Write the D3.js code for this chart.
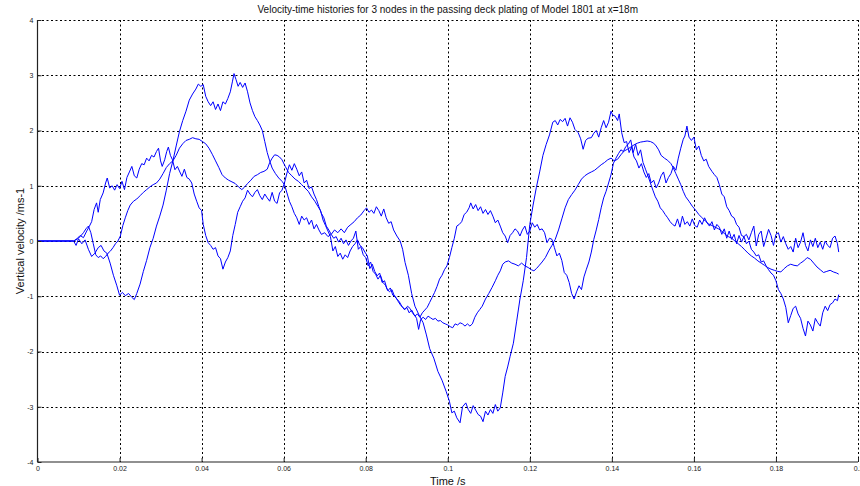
<!DOCTYPE html>
<html>
<head>
<meta charset="utf-8">
<script src="https://cdn.jsdelivr.net/npm/d3@7"></script>
<style>
  html, body { margin: 0; padding: 0; background: #fff; }
  svg { display: block; }
  text { font-family: "Liberation Sans", Arial, sans-serif; }
</style>
</head>
<body>
<svg id="chart" width="860" height="486"></svg>
<script>
// Vertical velocity histories [time s, velocity m/s] for three deck plating nodes
const nodeA = [
  [0,0],[0.0088,0],[0.0094,-0.08],[0.0100,0.04],[0.0108,-0.05],[0.0116,0.02],[0.0124,-0.15],[0.0132,-0.28],
  [0.0140,-0.22],[0.0148,-0.12],[0.0155,-0.08],[0.0162,-0.18],[0.0169,-0.22],[0.0177,-0.40],[0.0185,-0.62],
  [0.0193,-0.80],[0.0200,-0.98],[0.0207,-0.93],[0.0214,-0.99],[0.0222,-0.95],[0.0230,-1.02],[0.0236,-1.06],
  [0.0242,-0.95],[0.0250,-0.78],[0.0258,-0.55],[0.0266,-0.35],[0.0274,-0.12],[0.0282,0.05],[0.0290,0.27],
  [0.0298,0.45],[0.0306,0.65],[0.0314,0.92],[0.0322,1.22],[0.0330,1.45],[0.0338,1.72],[0.0346,1.98],
  [0.0354,2.18],[0.0362,2.35],[0.0370,2.55],[0.0378,2.66],[0.0386,2.75],[0.0392,2.84],[0.0398,2.80],
  [0.0404,2.83],[0.0410,2.62],[0.0416,2.52],[0.0422,2.45],[0.0428,2.52],[0.0434,2.38],[0.0440,2.48],
  [0.0446,2.36],[0.0452,2.52],[0.0458,2.48],[0.0464,2.58],[0.0470,2.70],[0.0475,2.88],[0.0479,3.03],
  [0.0484,2.92],[0.0489,2.80],[0.0494,2.87],[0.0500,2.78],[0.0506,2.86],[0.0512,2.70],[0.0518,2.50],
  [0.0524,2.36],[0.0530,2.25],[0.0536,2.18],[0.0542,2.10],[0.0548,2.00],[0.0554,1.80],[0.0560,1.60],
  [0.0566,1.45],[0.0572,1.32],[0.0580,1.22],[0.0588,1.14],[0.0596,1.08],[0.0602,1.02],[0.0608,0.87],
  [0.0614,0.72],[0.0620,0.62],[0.0626,0.50],[0.0632,0.42],[0.0638,0.30],[0.0644,0.45],[0.0650,0.38],
  [0.0656,0.42],[0.0662,0.30],[0.0668,0.38],[0.0674,0.22],[0.0680,0.30],[0.0686,0.20],[0.0692,0.12],
  [0.0700,0.15],[0.0708,0.08],[0.0716,0.12],[0.0724,0.20],[0.0732,0.15],[0.0740,0.22],[0.0748,0.15],
  [0.0756,0.25],[0.0764,0.30],[0.0772,0.35],[0.0780,0.42],[0.0788,0.47],[0.0796,0.55],[0.0802,0.60],
  [0.0808,0.52],[0.0814,0.56],[0.0820,0.50],[0.0826,0.62],[0.0832,0.55],[0.0838,0.45],[0.0844,0.58],
  [0.0850,0.42],[0.0856,0.32],[0.0862,0.35],[0.0868,0.20],[0.0876,0.09],[0.0884,0.00],[0.0890,-0.15],
  [0.0896,-0.39],[0.0904,-0.62],[0.0912,-0.95],[0.0920,-1.18],[0.0930,-1.34],[0.0940,-1.48],[0.0948,-1.70],
  [0.0956,-1.95],[0.0966,-2.12],[0.0976,-2.36],[0.0986,-2.52],[0.0996,-2.72],[0.1004,-2.90],[0.1010,-3.11],
  [0.1016,-3.08],[0.1022,-3.20],[0.1030,-3.29],[0.1036,-3.00],[0.1044,-2.93],[0.1050,-3.05],[0.1056,-3.12],
  [0.1062,-2.98],[0.1068,-3.06],[0.1074,-3.14],[0.1080,-3.17],[0.1086,-3.27],[0.1092,-3.08],[0.1098,-3.15],
  [0.1104,-3.05],[0.1110,-3.12],[0.1116,-2.96],[0.1122,-3.08],[0.1128,-3.02],[0.1134,-2.75],[0.1140,-2.45],
  [0.1146,-2.28],[0.1152,-2.09],[0.1160,-1.85],[0.1168,-1.45],[0.1176,-1.05],[0.1184,-0.72],[0.1192,-0.30],
  [0.1200,0.30],[0.1208,0.65],[0.1216,0.97],[0.1224,1.25],[0.1232,1.55],[0.1240,1.75],[0.1248,1.92],
  [0.1256,2.15],[0.1262,2.18],[0.1268,2.10],[0.1274,2.20],[0.1280,2.16],[0.1286,2.22],[0.1292,2.08],
  [0.1298,2.23],[0.1304,2.15],[0.1310,2.02],[0.1318,1.96],[0.1324,1.85],[0.1330,1.66],[0.1336,1.82],
  [0.1342,1.86],[0.1350,1.87],[0.1356,1.95],[0.1362,2.00],[0.1368,1.88],[0.1374,2.05],[0.1380,2.18],
  [0.1386,2.05],[0.1392,2.15],[0.1398,2.35],[0.1402,2.28],[0.1408,2.26],[0.1414,2.18],[0.1418,2.30],
  [0.1424,1.96],[0.1430,1.78],[0.1436,1.80],[0.1442,1.60],[0.1448,1.70],[0.1454,1.52],[0.1460,1.45],
  [0.1466,1.32],[0.1472,1.40],[0.1478,1.25],[0.1484,1.15],[0.1490,1.22],[0.1496,1.05],[0.1502,1.10],
  [0.1508,0.96],[0.1514,1.05],[0.1520,1.18],[0.1526,1.25],[0.1532,1.05],[0.1538,1.15],[0.1544,1.22],
  [0.1550,1.35],[0.1556,1.28],[0.1562,1.50],[0.1568,1.68],[0.1574,1.84],[0.1578,1.90],[0.1583,2.08],
  [0.1588,1.88],[0.1594,1.82],[0.1600,1.88],[0.1606,1.65],[0.1612,1.72],[0.1618,1.55],[0.1624,1.45],
  [0.1630,1.48],[0.1636,1.35],[0.1644,1.26],[0.1650,1.20],[0.1656,1.15],[0.1662,1.02],[0.1668,0.85],
  [0.1674,0.80],[0.1680,0.62],[0.1686,0.55],[0.1692,0.45],[0.1698,0.42],[0.1704,0.30],[0.1710,0.25],
  [0.1716,0.10],[0.1722,0.08],[0.1728,-0.05],[0.1734,0.00],[0.1740,-0.15],[0.1746,-0.20],[0.1752,-0.27],
  [0.1758,-0.25],[0.1764,-0.38],[0.1770,-0.36],[0.1776,-0.45],[0.1782,-0.52],[0.1788,-0.58],[0.1794,-0.62],
  [0.1800,-0.72],[0.1806,-0.88],[0.1812,-0.95],[0.1818,-1.05],[0.1824,-1.20],[0.1830,-1.48],[0.1836,-1.35],
  [0.1842,-1.22],[0.1848,-1.18],[0.1854,-1.32],[0.1860,-1.40],[0.1866,-1.58],[0.1872,-1.72],[0.1878,-1.45],
  [0.1884,-1.52],[0.1890,-1.63],[0.1896,-1.40],[0.1902,-1.48],[0.1908,-1.54],[0.1914,-1.30],[0.1920,-1.18],
  [0.1926,-1.26],[0.1932,-1.15],[0.1938,-1.12],[0.1944,-1.05],[0.1950,-1.08],[0.1953,-0.97]
];

const nodeB = [
  [0,0],[0.0088,0],[0.0096,0.04],[0.0104,0.10],[0.0112,0.06],[0.0120,0.18],[0.0126,0.26],[0.0132,0.35],
  [0.0138,0.57],[0.0144,0.69],[0.0148,0.52],[0.0153,0.75],[0.0160,0.87],[0.0166,1.05],[0.0170,1.14],
  [0.0176,0.96],[0.0182,1.00],[0.0188,0.92],[0.0194,1.02],[0.0200,0.95],[0.0206,1.08],[0.0212,0.93],
  [0.0218,1.15],[0.0224,1.25],[0.0230,1.35],[0.0236,1.18],[0.0242,1.14],[0.0248,1.30],[0.0254,1.40],
  [0.0260,1.38],[0.0266,1.50],[0.0272,1.45],[0.0278,1.55],[0.0284,1.52],[0.0290,1.62],[0.0295,1.68],
  [0.0300,1.45],[0.0304,1.35],[0.0310,1.47],[0.0315,1.62],[0.0319,1.70],[0.0324,1.55],[0.0329,1.47],
  [0.0335,1.29],[0.0341,1.35],[0.0347,1.25],[0.0352,1.17],[0.0358,1.30],[0.0364,1.15],[0.0370,1.12],
  [0.0376,1.05],[0.0382,0.85],[0.0388,0.72],[0.0394,0.60],[0.0400,0.55],[0.0404,0.30],[0.0410,0.10],
  [0.0416,-0.03],[0.0422,-0.08],[0.0428,-0.15],[0.0434,-0.12],[0.0440,-0.27],[0.0446,-0.32],[0.0452,-0.51],
  [0.0458,-0.38],[0.0464,-0.30],[0.0470,-0.18],[0.0476,0.10],[0.0482,0.30],[0.0488,0.52],[0.0494,0.62],
  [0.0500,0.72],[0.0506,0.78],[0.0512,0.92],[0.0518,0.85],[0.0524,0.80],[0.0530,0.88],[0.0536,0.93],
  [0.0542,0.82],[0.0548,0.75],[0.0554,0.85],[0.0560,0.78],[0.0566,0.72],[0.0572,0.88],[0.0578,0.72],
  [0.0584,0.68],[0.0590,0.87],[0.0596,0.92],[0.0602,1.05],[0.0608,1.23],[0.0614,1.38],[0.0620,1.28],
  [0.0626,1.40],[0.0632,1.30],[0.0638,1.18],[0.0644,1.25],[0.0650,1.05],[0.0656,1.10],[0.0662,0.95],
  [0.0668,0.98],[0.0674,0.85],[0.0680,0.75],[0.0686,0.62],[0.0692,0.50],[0.0698,0.42],[0.0704,0.27],
  [0.0710,0.20],[0.0716,0.12],[0.0722,0.05],[0.0728,0.08],[0.0734,-0.02],[0.0740,0.05],[0.0746,-0.05],
  [0.0752,0.02],[0.0758,-0.08],[0.0764,0.00],[0.0770,0.05],[0.0776,0.18],[0.0782,-0.15],[0.0788,-0.10],
  [0.0794,-0.25],[0.0800,-0.30],[0.0806,-0.45],[0.0812,-0.38],[0.0818,-0.55],[0.0824,-0.60],[0.0830,-0.69],
  [0.0836,-0.62],[0.0842,-0.75],[0.0848,-0.80],[0.0854,-0.90],[0.0860,-0.85],[0.0866,-0.98],[0.0872,-1.00],
  [0.0878,-1.08],[0.0884,-1.15],[0.0890,-1.20],[0.0896,-1.24],[0.0902,-1.18],[0.0908,-1.22],[0.0914,-1.30],
  [0.0920,-1.36],[0.0926,-1.32],[0.0932,-1.38],[0.0938,-1.30],[0.0944,-1.25],[0.0950,-1.20],[0.0956,-1.11],
  [0.0962,-1.02],[0.0968,-0.93],[0.0974,-0.82],[0.0980,-0.69],[0.0986,-0.62],[0.0992,-0.52],[0.0998,-0.45],
  [0.1004,-0.30],[0.1010,-0.12],[0.1016,0.05],[0.1022,0.27],[0.1028,0.30],[0.1034,0.35],[0.1040,0.48],
  [0.1046,0.52],[0.1052,0.60],[0.1056,0.69],[0.1062,0.58],[0.1068,0.66],[0.1074,0.55],[0.1080,0.62],
  [0.1086,0.50],[0.1092,0.57],[0.1098,0.48],[0.1104,0.55],[0.1110,0.45],[0.1116,0.33],[0.1122,0.38],
  [0.1128,0.27],[0.1134,0.15],[0.1140,0.09],[0.1146,-0.03],[0.1152,0.10],[0.1158,0.15],[0.1164,0.22],
  [0.1170,0.18],[0.1176,0.09],[0.1182,0.20],[0.1188,0.27],[0.1194,0.12],[0.1200,0.18],[0.1206,0.33],
  [0.1212,0.25],[0.1218,0.30],[0.1224,0.20],[0.1230,0.22],[0.1236,0.15],[0.1242,-0.03],[0.1248,0.05],
  [0.1254,0.03],[0.1260,-0.12],[0.1266,-0.27],[0.1272,-0.22],[0.1278,-0.35],[0.1284,-0.57],[0.1290,-0.62],
  [0.1296,-0.75],[0.1302,-0.95],[0.1308,-1.05],[0.1314,-0.92],[0.1320,-0.81],[0.1326,-0.88],[0.1332,-0.65],
  [0.1338,-0.51],[0.1344,-0.38],[0.1350,-0.20],[0.1356,0.03],[0.1362,0.20],[0.1368,0.39],[0.1374,0.60],
  [0.1380,0.78],[0.1386,0.90],[0.1392,1.05],[0.1398,1.20],[0.1404,1.41],[0.1410,1.50],[0.1416,1.58],
  [0.1422,1.65],[0.1428,1.62],[0.1434,1.71],[0.1440,1.75],[0.1446,1.83],[0.1452,1.60],[0.1458,1.75],
  [0.1464,1.55],[0.1470,1.65],[0.1476,1.42],[0.1482,1.30],[0.1488,1.18],[0.1494,1.05],[0.1500,0.92],
  [0.1506,0.80],[0.1512,0.72],[0.1518,0.60],[0.1524,0.55],[0.1530,0.48],[0.1536,0.42],[0.1542,0.35],
  [0.1548,0.30],[0.1554,0.27],[0.1560,0.40],[0.1566,0.25],[0.1572,0.45],[0.1578,0.30],[0.1584,0.35],
  [0.1590,0.27],[0.1596,0.40],[0.1602,0.28],[0.1608,0.25],[0.1614,0.38],[0.1620,0.30],[0.1626,0.42],
  [0.1632,0.33],[0.1638,0.27],[0.1644,0.35],[0.1650,0.20],[0.1656,0.30],[0.1662,0.25],[0.1668,0.12],
  [0.1674,0.22],[0.1680,0.05],[0.1686,0.18],[0.1692,0.03],[0.1698,0.12],[0.1704,-0.05],[0.1710,0.10],
  [0.1716,-0.02],[0.1722,0.08],[0.1728,0.12],[0.1734,0.02],[0.1740,0.15],[0.1746,0.27],[0.1752,-0.09],
  [0.1758,0.12],[0.1764,0.18],[0.1770,-0.10],[0.1776,0.05],[0.1782,0.21],[0.1788,0.10],[0.1794,-0.08],
  [0.1800,0.12],[0.1806,0.15],[0.1812,-0.02],[0.1818,0.08],[0.1824,-0.05],[0.1830,-0.15],[0.1836,-0.10],
  [0.1842,-0.20],[0.1848,0.05],[0.1854,-0.12],[0.1860,-0.02],[0.1866,0.15],[0.1872,-0.08],[0.1878,-0.18],
  [0.1884,0.02],[0.1890,-0.10],[0.1896,0.05],[0.1902,-0.12],[0.1908,-0.02],[0.1914,-0.15],[0.1920,0.00],
  [0.1926,-0.08],[0.1932,-0.12],[0.1938,0.05],[0.1944,0.09],[0.1950,-0.05],[0.1953,-0.20]
];

const nodeC = [
  [0,0],[0.0088,0],[0.0096,0.03],[0.0104,0.08],[0.0112,0.15],[0.0118,0.22],[0.0124,0.27],[0.0130,0.15],
  [0.0136,-0.05],[0.0142,-0.25],[0.0148,-0.30],[0.0154,-0.27],[0.0160,-0.32],[0.0166,-0.28],[0.0172,-0.22],
  [0.0178,-0.18],[0.0184,-0.12],[0.0190,-0.05],[0.0196,0.00],[0.0202,0.09],[0.0208,0.28],[0.0214,0.42],
  [0.0220,0.55],[0.0226,0.65],[0.0234,0.72],[0.0242,0.76],[0.0250,0.82],[0.0258,0.88],[0.0266,0.93],
  [0.0274,0.98],[0.0282,1.02],[0.0290,1.05],[0.0298,1.12],[0.0306,1.22],[0.0314,1.33],[0.0322,1.40],
  [0.0330,1.45],[0.0338,1.55],[0.0346,1.68],[0.0354,1.76],[0.0362,1.82],[0.0370,1.84],[0.0378,1.87],
  [0.0386,1.85],[0.0394,1.84],[0.0402,1.80],[0.0410,1.76],[0.0418,1.68],[0.0426,1.57],[0.0434,1.45],
  [0.0442,1.33],[0.0450,1.20],[0.0458,1.14],[0.0466,1.10],[0.0474,1.07],[0.0482,1.04],[0.0490,0.98],
  [0.0498,0.93],[0.0504,0.97],[0.0512,1.04],[0.0520,1.10],[0.0528,1.17],[0.0536,1.20],[0.0544,1.24],
  [0.0552,1.26],[0.0560,1.30],[0.0566,1.42],[0.0572,1.50],[0.0578,1.56],[0.0584,1.55],[0.0590,1.52],
  [0.0596,1.47],[0.0604,1.35],[0.0612,1.24],[0.0620,1.18],[0.0628,1.12],[0.0636,1.08],[0.0644,1.02],
  [0.0652,0.96],[0.0660,0.90],[0.0668,0.80],[0.0676,0.72],[0.0684,0.62],[0.0690,0.55],[0.0696,0.38],
  [0.0702,0.28],[0.0708,0.18],[0.0714,0.08],[0.0720,-0.18],[0.0726,-0.10],[0.0732,-0.28],[0.0738,-0.22],
  [0.0744,-0.33],[0.0750,-0.25],[0.0756,-0.30],[0.0762,-0.18],[0.0768,-0.10],[0.0774,-0.05],[0.0780,0.02],
  [0.0786,-0.08],[0.0792,-0.12],[0.0798,-0.20],[0.0804,-0.27],[0.0810,-0.50],[0.0816,-0.42],[0.0822,-0.55],
  [0.0828,-0.63],[0.0834,-0.58],[0.0840,-0.75],[0.0846,-0.72],[0.0852,-0.87],[0.0858,-0.92],[0.0864,-0.88],
  [0.0870,-1.00],[0.0876,-1.05],[0.0882,-1.10],[0.0888,-1.18],[0.0894,-1.24],[0.0900,-1.20],[0.0906,-1.30],
  [0.0912,-1.25],[0.0918,-1.33],[0.0924,-1.40],[0.0929,-1.60],[0.0934,-1.42],[0.0940,-1.38],[0.0946,-1.42],
  [0.0952,-1.36],[0.0958,-1.39],[0.0964,-1.42],[0.0970,-1.40],[0.0976,-1.45],[0.0982,-1.44],[0.0988,-1.48],
  [0.0994,-1.50],[0.1000,-1.52],[0.1006,-1.55],[0.1012,-1.57],[0.1018,-1.50],[0.1024,-1.52],[0.1030,-1.48],
  [0.1036,-1.50],[0.1042,-1.54],[0.1048,-1.50],[0.1054,-1.54],[0.1060,-1.50],[0.1066,-1.38],[0.1072,-1.30],
  [0.1078,-1.24],[0.1084,-1.18],[0.1092,-1.05],[0.1100,-0.95],[0.1108,-0.84],[0.1116,-0.72],[0.1122,-0.62],
  [0.1128,-0.54],[0.1134,-0.42],[0.1140,-0.38],[0.1148,-0.36],[0.1156,-0.40],[0.1164,-0.42],[0.1172,-0.45],
  [0.1180,-0.40],[0.1188,-0.45],[0.1196,-0.48],[0.1204,-0.52],[0.1210,-0.54],[0.1216,-0.50],[0.1222,-0.45],
  [0.1230,-0.38],[0.1238,-0.30],[0.1246,-0.18],[0.1254,-0.08],[0.1262,0.03],[0.1270,0.20],[0.1278,0.40],
  [0.1286,0.60],[0.1294,0.75],[0.1302,0.84],[0.1310,0.92],[0.1318,1.02],[0.1326,1.12],[0.1334,1.18],
  [0.1342,1.22],[0.1350,1.25],[0.1358,1.28],[0.1366,1.33],[0.1374,1.38],[0.1382,1.42],[0.1390,1.47],
  [0.1398,1.50],[0.1406,1.45],[0.1414,1.48],[0.1422,1.56],[0.1430,1.63],[0.1438,1.66],[0.1446,1.70],
  [0.1454,1.74],[0.1462,1.77],[0.1470,1.79],[0.1478,1.80],[0.1486,1.81],[0.1494,1.80],[0.1502,1.77],
  [0.1508,1.72],[0.1514,1.65],[0.1520,1.55],[0.1528,1.50],[0.1536,1.46],[0.1544,1.40],[0.1550,1.32],
  [0.1556,1.22],[0.1562,1.12],[0.1568,1.02],[0.1574,0.90],[0.1580,0.80],[0.1588,0.72],[0.1596,0.63],
  [0.1604,0.56],[0.1612,0.48],[0.1620,0.42],[0.1628,0.36],[0.1636,0.31],[0.1644,0.28],[0.1652,0.25],
  [0.1660,0.22],[0.1668,0.18],[0.1676,0.12],[0.1684,0.08],[0.1692,0.05],[0.1700,0.00],[0.1708,-0.05],
  [0.1716,-0.10],[0.1724,-0.16],[0.1732,-0.22],[0.1740,-0.27],[0.1748,-0.31],[0.1756,-0.36],[0.1764,-0.40],
  [0.1772,-0.44],[0.1780,-0.48],[0.1788,-0.51],[0.1796,-0.53],[0.1804,-0.55],[0.1812,-0.56],[0.1820,-0.50],
  [0.1828,-0.45],[0.1836,-0.42],[0.1844,-0.44],[0.1852,-0.45],[0.1860,-0.40],[0.1868,-0.36],[0.1876,-0.30],
  [0.1884,-0.33],[0.1892,-0.40],[0.1900,-0.47],[0.1908,-0.52],[0.1916,-0.57],[0.1924,-0.55],[0.1932,-0.53],
  [0.1940,-0.56],[0.1948,-0.58],[0.1953,-0.60]
];

const xTicks = [0, 0.02, 0.04, 0.06, 0.08, 0.1, 0.12, 0.14, 0.16, 0.18, 0.2];
const xTickLabels = ["0", "0.02", "0.04", "0.06", "0.08", "0.1", "0.12", "0.14", "0.16", "0.18", "0.2"];
const yTicks = [-4, -3, -2, -1, 0, 1, 2, 3, 4];

const titleText = "Velocity-time histories for 3 nodes in the passing deck plating of Model 1801 at x=18m";
const xLabelText = "Time /s";
const yLabelText = "Vertical velocity /ms-1";

const W = 860, H = 486;
const plot = { left: 37.5, right: 858, top: 20, bottom: 462 };

const svg = d3.select("#chart");
svg.append("rect").attr("width", W).attr("height", H).attr("fill", "#fff");

const x = d3.scaleLinear().domain([0, 0.2]).range([plot.left, plot.right]);
const y = d3.scaleLinear().domain([-4, 4]).range([plot.bottom, plot.top]);

// Dotted grid
const grid = svg.append("g").attr("stroke", "#000").attr("stroke-width", 1)
  .attr("stroke-dasharray", "2,2.5").attr("fill", "none");
grid.selectAll("line.gx").data(xTicks.filter(d => d > 0)).join("line")
  .attr("class", "gx")
  .attr("x1", d => Math.round(x(d)) + 0.5).attr("x2", d => Math.round(x(d)) + 0.5)
  .attr("y1", plot.top).attr("y2", plot.bottom);
grid.selectAll("line.gy").data(yTicks.filter(d => d > -4)).join("line")
  .attr("class", "gy")
  .attr("y1", d => Math.round(y(d)) + 0.5).attr("y2", d => Math.round(y(d)) + 0.5)
  .attr("x1", plot.left).attr("x2", plot.right);

// Velocity traces
const line = d3.line().x(d => x(d[0])).y(d => y(d[1]));
svg.append("g").selectAll("path").data([nodeA, nodeB, nodeC]).join("path")
  .attr("d", line)
  .attr("fill", "none")
  .attr("stroke", "#0000ff")
  .attr("stroke-width", 1)
  .attr("stroke-linejoin", "round");

// Axes with inward ticks
const xAxis = d3.axisBottom(x).tickValues(xTicks)
  .tickFormat((d, i) => xTickLabels[i]).tickSize(-4).tickPadding(4);
const yAxis = d3.axisLeft(y).tickValues(yTicks)
  .tickFormat(d => String(d)).tickSize(-4).tickPadding(4);

const gx = svg.append("g").attr("transform", `translate(0,${plot.bottom})`).call(xAxis);
const gy = svg.append("g").attr("transform", `translate(${plot.left},0)`).call(yAxis);
[gx, gy].forEach(g => {
  g.select(".domain").attr("stroke", "#222").attr("stroke-width", 1.2);
  g.selectAll(".tick line").attr("stroke", "#222");
  g.selectAll(".tick text").attr("fill", "#222")
    .style("font-family", '"Liberation Sans", Arial, sans-serif').style("font-size", "7px");
});
gx.select(".domain").attr("d", `M${plot.left},0H${plot.right}`);
gy.select(".domain").attr("d", `M0,${plot.bottom}V${plot.top}`);

// Title and axis labels
svg.append("text").attr("x", (plot.left + plot.right) / 2).attr("y", 13)
  .attr("text-anchor", "middle").attr("font-size", 10).attr("fill", "#111").text(titleText);
svg.append("text").attr("x", (plot.left + plot.right) / 2).attr("y", 485)
  .attr("text-anchor", "middle").attr("font-size", 11).attr("fill", "#111").text(xLabelText);
svg.append("text").attr("transform", `translate(24,${(plot.top + plot.bottom) / 2}) rotate(-90)`)
  .attr("text-anchor", "middle").attr("font-size", 11).attr("fill", "#111").text(yLabelText);
</script>
</body>
</html>
